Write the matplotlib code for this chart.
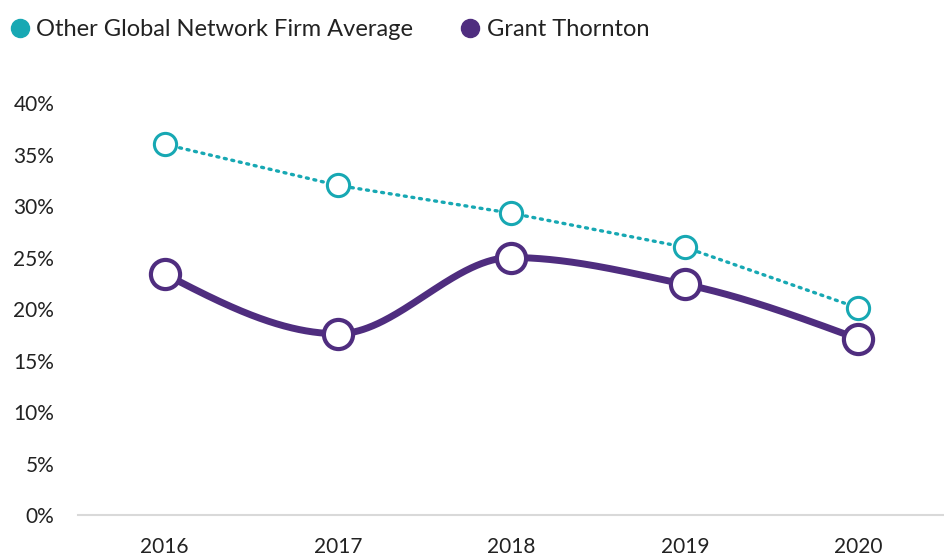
import numpy as np
import matplotlib
matplotlib.use('Agg')
import matplotlib.pyplot as plt
from matplotlib.lines import Line2D

years = [2016, 2017, 2018, 2019, 2020]
other_avg = [36.0, 32.0, 29.3, 26.0, 20.1]
grant_thornton = [23.4, 17.6, 25.0, 22.4, 17.1]
y_ticks = [0, 5, 10, 15, 20, 25, 30, 35, 40]

TEAL = '#17a8b3'
PURPLE = '#4f2d7f'

plt.rcParams['font.family'] = ['Lato', 'DejaVu Sans']


def monotone_curve(x, y, n=200):
    # Fritsch-Carlson monotone cubic, like d3.curveMonotoneX
    x = np.asarray(x, float)
    y = np.asarray(y, float)
    h = np.diff(x)
    d = np.diff(y) / h
    m = np.zeros_like(y)
    for i in range(1, len(y) - 1):
        if d[i - 1] * d[i] <= 0:
            m[i] = 0
        else:
            w1 = 2 * h[i] + h[i - 1]
            w2 = h[i] + 2 * h[i - 1]
            m[i] = (w1 + w2) / (w1 / d[i - 1] + w2 / d[i])
    # end slopes as in d3
    m[0] = (3 * d[0] - m[1]) / 2
    m[-1] = (3 * d[-1] - m[-2]) / 2
    xs, ys = [], []
    for i in range(len(x) - 1):
        t = np.linspace(0, 1, n)
        h00 = 2 * t**3 - 3 * t**2 + 1
        h10 = t**3 - 2 * t**2 + t
        h01 = -2 * t**3 + 3 * t**2
        h11 = t**3 - t**2
        xs.append(x[i] + t * h[i])
        ys.append(h00 * y[i] + h10 * h[i] * m[i] + h01 * y[i + 1] + h11 * h[i] * m[i + 1])
    return np.concatenate(xs), np.concatenate(ys)


fig = plt.figure(figsize=(9.45, 5.56), dpi=100)
ax = fig.add_axes([0.0825, 0.0737, 0.9175, 0.741])

# teal dotted line
ax.plot(years, other_avg, color=TEAL, lw=2.4, linestyle=(0, (0.6, 1.7)),
        dash_capstyle='round', zorder=2, clip_on=False)
ax.plot(years, other_avg, 'o', ms=16, mfc='white', mec=TEAL, mew=2.2,
        zorder=3, clip_on=False)

# purple smooth line
cx, cy = monotone_curve(years, grant_thornton)
ax.plot(cx, cy, color=PURPLE, lw=5, solid_capstyle='round', zorder=4, clip_on=False)
ax.plot(years, grant_thornton, 'o', ms=21, mfc='white', mec=PURPLE, mew=3,
        zorder=5, clip_on=False)

ax.set_xlim(2015.5, 2020.5)
ax.set_ylim(0, 40)
ax.set_xticks(years)
ax.set_xticklabels([str(y) for y in years])
ax.set_yticks(y_ticks)
ax.set_yticklabels([f'{t}%' for t in y_ticks])

for s in ['top', 'right', 'left']:
    ax.spines[s].set_visible(False)
ax.spines['bottom'].set_color('#d9d9d9')
ax.spines['bottom'].set_linewidth(1.5)
ax.tick_params(axis='both', length=0, labelsize=15, colors='#222222')
ax.tick_params(axis='y', pad=17)
ax.tick_params(axis='x', pad=16)

handles = [
    Line2D([], [], marker='o', ls='none', ms=13, color=TEAL),
    Line2D([], [], marker='o', ls='none', ms=13, color=PURPLE),
]
fig.legend(handles, ['Other Global Network Firm Average', 'Grant Thornton'],
           loc='upper left', bbox_to_anchor=(-0.009, 1.0), ncol=2, frameon=False,
           fontsize=17, handlelength=0.8, handletextpad=0.3, columnspacing=2.0,
           borderaxespad=0.4, labelcolor='#222222')

fig.savefig('out.png', dpi=100)
